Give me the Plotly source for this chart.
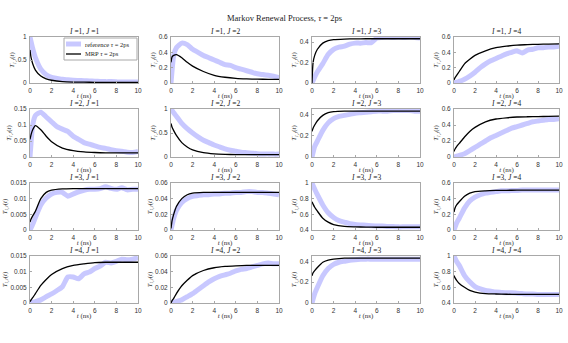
import plotly.graph_objects as go

t_mrp = [0, 0.1, 0.25, 0.5, 1, 1.5, 2, 3, 4, 5, 6, 7, 8, 9, 10]
t_ref = [0, 0.25, 0.5, 1, 1.5, 2, 2.5, 3, 3.5, 4, 4.5, 5, 5.5, 6, 6.5, 7, 7.5, 8, 8.5, 9, 9.5, 10]

# reference (thick light-blue) curves, panel I,J
ref_11 = [1.0, 0.75, 0.55, 0.3, 0.18, 0.12, 0.1, 0.08, 0.07, 0.06, 0.055, 0.05, 0.045, 0.04, 0.035, 0.03, 0.03, 0.025, 0.02, 0.02, 0.02, 0.02]
ref_12 = [0.0, 0.36, 0.46, 0.52, 0.5, 0.44, 0.4, 0.36, 0.33, 0.3, 0.27, 0.24, 0.23, 0.2, 0.18, 0.16, 0.14, 0.12, 0.11, 0.1, 0.09, 0.07]
ref_13 = [0.0, 0.06, 0.11, 0.19, 0.28, 0.33, 0.35, 0.36, 0.38, 0.39, 0.39, 0.395, 0.395, 0.44, 0.445, 0.45, 0.445, 0.45, 0.445, 0.45, 0.445, 0.44]
ref_14 = [0.0, 0.01, 0.02, 0.05, 0.09, 0.14, 0.2, 0.25, 0.29, 0.32, 0.35, 0.38, 0.4, 0.42, 0.39, 0.43, 0.44, 0.46, 0.46, 0.47, 0.47, 0.48]
ref_21 = [0.0, 0.1, 0.13, 0.14, 0.125, 0.11, 0.095, 0.087, 0.08, 0.065, 0.055, 0.045, 0.04, 0.035, 0.03, 0.027, 0.023, 0.02, 0.018, 0.015, 0.014, 0.017]
ref_22 = [1.0, 0.92, 0.85, 0.7, 0.59, 0.5, 0.42, 0.35, 0.3, 0.25, 0.21, 0.17, 0.14, 0.12, 0.1, 0.09, 0.08, 0.07, 0.065, 0.065, 0.06, 0.06]
ref_23 = [0.0, 0.1, 0.15, 0.25, 0.32, 0.36, 0.38, 0.39, 0.4, 0.41, 0.415, 0.42, 0.425, 0.43, 0.43, 0.43, 0.435, 0.435, 0.435, 0.435, 0.43, 0.43]
ref_24 = [0.0, 0.01, 0.02, 0.04, 0.08, 0.12, 0.16, 0.2, 0.24, 0.27, 0.3, 0.33, 0.36, 0.38, 0.4, 0.42, 0.44, 0.45, 0.46, 0.47, 0.47, 0.48]
ref_31 = [0.0, 0.0018, 0.004, 0.008, 0.0102, 0.0115, 0.012, 0.012, 0.0108, 0.0115, 0.0122, 0.0127, 0.013, 0.013, 0.0132, 0.0138, 0.0133, 0.013, 0.0135, 0.0128, 0.013, 0.013]
ref_32 = [0.0, 0.015, 0.025, 0.035, 0.04, 0.043, 0.044, 0.045, 0.045, 0.046, 0.046, 0.047, 0.047, 0.048, 0.048, 0.049, 0.049, 0.048, 0.048, 0.047, 0.046, 0.045]
ref_33 = [1.0, 0.92, 0.85, 0.72, 0.62, 0.56, 0.52, 0.5, 0.48, 0.47, 0.465, 0.46, 0.455, 0.45, 0.45, 0.445, 0.445, 0.44, 0.44, 0.44, 0.44, 0.44]
ref_34 = [0.0, 0.09, 0.15, 0.28, 0.37, 0.42, 0.45, 0.47, 0.48, 0.49, 0.5, 0.5, 0.505, 0.505, 0.51, 0.51, 0.51, 0.51, 0.51, 0.51, 0.51, 0.51]
ref_41 = [0.0, 0.0002, 0.0004, 0.001, 0.002, 0.0029, 0.004, 0.0052, 0.0083, 0.0083, 0.0077, 0.0093, 0.0099, 0.011, 0.0118, 0.013, 0.0128, 0.0133, 0.014, 0.0138, 0.014, 0.0145]
ref_42 = [0.0, 0.001, 0.002, 0.004, 0.008, 0.012, 0.017, 0.022, 0.027, 0.031, 0.034, 0.036, 0.038, 0.041, 0.043, 0.044, 0.046, 0.048, 0.05, 0.051, 0.05, 0.05]
ref_43 = [0.0, 0.09, 0.15, 0.26, 0.33, 0.37, 0.39, 0.4, 0.41, 0.415, 0.418, 0.42, 0.42, 0.42, 0.42, 0.42, 0.42, 0.42, 0.42, 0.42, 0.42, 0.42]
ref_44 = [1.0, 0.93, 0.88, 0.75, 0.67, 0.61, 0.58, 0.56, 0.55, 0.54, 0.535, 0.53, 0.53, 0.525, 0.52, 0.515, 0.515, 0.51, 0.51, 0.51, 0.51, 0.51]

# MRP (black) curves, panel I,J
mrp_11 = [0.72, 0.55, 0.42, 0.28, 0.15, 0.09, 0.06, 0.03, 0.02, 0.017, 0.015, 0.015, 0.014, 0.014, 0.014]
mrp_12 = [0.27, 0.34, 0.36, 0.37, 0.33, 0.27, 0.22, 0.15, 0.1, 0.075, 0.06, 0.053, 0.05, 0.048, 0.047]
mrp_13 = [0.0, 0.2, 0.27, 0.33, 0.39, 0.415, 0.425, 0.43, 0.432, 0.433, 0.433, 0.433, 0.433, 0.433, 0.433]
mrp_14 = [0.04, 0.07, 0.1, 0.15, 0.25, 0.31, 0.36, 0.42, 0.46, 0.48, 0.495, 0.5, 0.505, 0.508, 0.51]
mrp_21 = [0.055, 0.07, 0.085, 0.098, 0.085, 0.065, 0.048, 0.028, 0.02, 0.016, 0.014, 0.013, 0.013, 0.013, 0.013]
mrp_22 = [0.7, 0.62, 0.55, 0.45, 0.3, 0.21, 0.15, 0.09, 0.065, 0.055, 0.05, 0.05, 0.05, 0.05, 0.05]
mrp_23 = [0.24, 0.27, 0.3, 0.34, 0.39, 0.415, 0.425, 0.43, 0.43, 0.43, 0.43, 0.43, 0.43, 0.43, 0.43]
mrp_24 = [0.07, 0.1, 0.13, 0.17, 0.25, 0.32, 0.37, 0.44, 0.475, 0.49, 0.5, 0.503, 0.505, 0.508, 0.51]
mrp_31 = [0.0025, 0.0035, 0.0045, 0.006, 0.01, 0.012, 0.0127, 0.0131, 0.0132, 0.0132, 0.0132, 0.0132, 0.0132, 0.0132, 0.0132]
mrp_32 = [0.002, 0.012, 0.02, 0.03, 0.04, 0.045, 0.047, 0.048, 0.048, 0.048, 0.048, 0.048, 0.048, 0.048, 0.048]
mrp_33 = [0.76, 0.73, 0.69, 0.64, 0.55, 0.5, 0.47, 0.445, 0.44, 0.437, 0.435, 0.435, 0.435, 0.435, 0.435]
mrp_34 = [0.23, 0.28, 0.32, 0.36, 0.43, 0.47, 0.49, 0.5, 0.505, 0.507, 0.508, 0.509, 0.51, 0.51, 0.51]
mrp_41 = [0.0004, 0.001, 0.0017, 0.003, 0.0056, 0.0075, 0.0091, 0.011, 0.012, 0.0125, 0.0129, 0.013, 0.013, 0.013, 0.013]
mrp_42 = [0.0, 0.003, 0.006, 0.012, 0.022, 0.029, 0.035, 0.0415, 0.045, 0.0467, 0.0475, 0.048, 0.048, 0.048, 0.048]
mrp_43 = [0.26, 0.29, 0.31, 0.34, 0.39, 0.41, 0.42, 0.43, 0.43, 0.43, 0.43, 0.43, 0.43, 0.43, 0.43]
mrp_44 = [0.75, 0.72, 0.69, 0.65, 0.6, 0.56, 0.54, 0.52, 0.515, 0.512, 0.51, 0.51, 0.51, 0.51, 0.51]

refs = [[ref_11, ref_12, ref_13, ref_14], [ref_21, ref_22, ref_23, ref_24],
        [ref_31, ref_32, ref_33, ref_34], [ref_41, ref_42, ref_43, ref_44]]
mrps = [[mrp_11, mrp_12, mrp_13, mrp_14], [mrp_21, mrp_22, mrp_23, mrp_24],
        [mrp_31, mrp_32, mrp_33, mrp_34], [mrp_41, mrp_42, mrp_43, mrp_44]]

# y-axis ranges and ticks per panel
y_ranges = [[[0, 1], [0, 0.6], [0, 0.45], [0, 0.6]],
            [[0, 0.15], [0, 1], [0, 0.45], [0, 0.6]],
            [[0, 0.015], [0, 0.06], [0.4, 1], [0, 0.6]],
            [[0, 0.015], [0, 0.06], [0, 0.45], [0.4, 1]]]
y_ticks = [[[0, 0.5, 1], [0, 0.2, 0.4, 0.6], [0, 0.2, 0.4], [0, 0.2, 0.4, 0.6]],
           [[0, 0.05, 0.1, 0.15], [0, 0.5, 1], [0, 0.2, 0.4], [0, 0.2, 0.4, 0.6]],
           [[0, 0.005, 0.01, 0.015], [0, 0.02, 0.04, 0.06], [0.4, 0.6, 0.8, 1], [0, 0.2, 0.4, 0.6]],
           [[0, 0.005, 0.01, 0.015], [0, 0.02, 0.04, 0.06], [0, 0.2, 0.4], [0.4, 0.6, 0.8, 1]]]
x_ticks = [0, 2, 4, 6, 8, 10]

legend_labels = ["reference <i>τ</i> = 2ps", "MRP <i>τ</i> = 2ps"]

W, H = 568, 343
col_px = [(30, 138), (171, 279), (312, 420), (454, 559)]
row_px = [(37, 83), (109, 157), (183, 230), (256, 303)]

SERIF = "Liberation Serif, DejaVu Serif, serif"
SANS = "Liberation Sans, Arial, sans-serif"
REF_COLOR = "rgba(190,190,255,0.85)"
AX_COLOR = "#a8a8a8"

fig = go.Figure()
annotations = []
k = 0
for i in range(4):
    for j in range(4):
        k += 1
        xa = "x" if k == 1 else f"x{k}"
        ya = "y" if k == 1 else f"y{k}"
        fig.add_trace(go.Scatter(
            x=t_ref, y=refs[i][j], mode="lines", xaxis=xa, yaxis=ya,
            line=dict(color=REF_COLOR, width=5, shape="spline", smoothing=0.5),
            name=legend_labels[0], showlegend=False))
        fig.add_trace(go.Scatter(
            x=t_mrp, y=mrps[i][j], mode="lines", xaxis=xa, yaxis=ya,
            line=dict(color="black", width=1.3, shape="spline", smoothing=0.6),
            name=legend_labels[1], showlegend=False))

        x0, x1 = col_px[j]
        y0, y1 = row_px[i]
        axis_common = dict(showline=True, mirror=True, linecolor=AX_COLOR, linewidth=1,
                           ticks="inside", ticklen=2, tickcolor=AX_COLOR,
                           showgrid=False, zeroline=False, automargin=False,
                           tickfont=dict(family=SANS, size=6.5, color="#333333"))
        fig.layout[f"xaxis{'' if k == 1 else k}"] = dict(
            domain=[x0 / W, x1 / W], anchor=ya, range=[0, 10],
            tickvals=x_ticks, ticklabelstandoff=1,
            title=dict(text="<i>t</i> (ns)", standoff=0, font=dict(family=SERIF, size=7, color="#333333")),
            **axis_common)
        fig.layout[f"yaxis{'' if k == 1 else k}"] = dict(
            domain=[1 - y1 / H, 1 - y0 / H], anchor=xa, range=y_ranges[i][j],
            tickvals=y_ticks[i][j], ticklabelstandoff=1,
            title=dict(text="<i>T</i><sub><i>I,J</i></sub>(<i>t</i>)", standoff=1,
                       font=dict(family=SERIF, size=7, color="#333333")),
            **axis_common)
        annotations.append(dict(
            text=f"<i>I</i> ={i + 1}, <i>J</i> ={j + 1}",
            x=(x0 + x1) / 2 / W, y=1 - (y0 - 5.5) / H, xref="paper", yref="paper",
            xanchor="center", yanchor="middle", showarrow=False,
            font=dict(family=SERIF, size=7.5, color="#222222")))

annotations.append(dict(
    text="Markov Renewal Process, <i>τ</i> = 2ps", x=0.5, y=1 - 18 / H,
    xref="paper", yref="paper", xanchor="center", yanchor="middle", showarrow=False,
    font=dict(family=SERIF, size=8.5, color="#222222")))

# compact legend box inside the first panel (plotly's own legend rows are too tall here)
shapes = [dict(type="rect", xref="paper", yref="paper",
               x0=64 / W, x1=137 / W, y0=1 - 60 / H, y1=1 - 38 / H,
               line=dict(color=AX_COLOR, width=1), fillcolor="white", layer="above")]
legend_rows = [(REF_COLOR, 5, 44), ("black", 1.3, 54)]
for (color, width, ypx), label in zip(legend_rows, legend_labels):
    shapes.append(dict(type="line", xref="paper", yref="paper",
                       x0=66 / W, x1=81 / W, y0=1 - ypx / H, y1=1 - ypx / H,
                       line=dict(color=color, width=width), layer="above"))
    annotations.append(dict(text=label, x=83 / W, y=1 - ypx / H, xref="paper", yref="paper",
                            xanchor="left", yanchor="middle", showarrow=False,
                            font=dict(family=SERIF, size=6.5, color="#222222")))

fig.update_layout(
    template="none",
    width=W, height=H, margin=dict(l=0, r=0, t=0, b=0),
    paper_bgcolor="white", plot_bgcolor="white",
    annotations=annotations, shapes=shapes, showlegend=False,
)

# the page body has a default 8px margin; drop it so the figure sits at the window origin
fig.write_html("out.html", config={"displayModeBar": False},
               post_script="document.body.style.margin = '0';")
